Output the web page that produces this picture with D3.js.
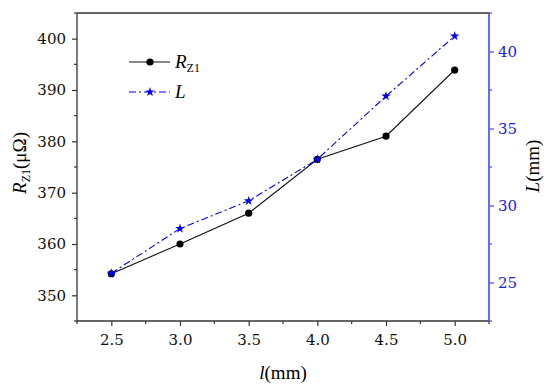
<!DOCTYPE html>
<html><head><meta charset="utf-8">
<script src="https://cdn.jsdelivr.net/npm/d3@7"></script>
<style>
html,body{margin:0;padding:0;background:#fff;}
svg{display:block;}
</style></head>
<body><svg id="c" width="550" height="388"></svg>
<script>
const lengths = [2.5, 3.0, 3.5, 4.0, 4.5, 5.0];
const rz1 = [354.2, 360.0, 366.0, 376.5, 381.0, 393.9];
const bigL = [25.6, 28.5, 30.3, 33.0, 37.1, 41.0];
const xTicks = [2.5, 3.0, 3.5, 4.0, 4.5, 5.0];
const yLeftTicks = [350, 360, 370, 380, 390, 400];
const yRightTicks = [25, 30, 35, 40];

const svg = d3.select("#c");
const L = 77, R = 489, T = 13, B = 321;
const x = d3.scaleLinear().domain([2.25, 5.25]).range([L, R]);
const yl = d3.scaleLinear().domain([345, 405]).range([B, T]);
const yr = d3.scaleLinear().domain([22.5, 42.5]).range([B, T]);
const dark = "#333";
const blueAxis = "#4646ff";
const blue = "#0000ff";
const numFont = "'DejaVu Serif', serif";
const txtFont = "'Liberation Serif', 'DejaVu Serif', serif";
const fs = 15;

// top border
svg.append("line").attr("x1", L).attr("x2", R).attr("y1", T).attr("y2", T).attr("stroke", dark).attr("stroke-width", 1.3);

// bottom axis
const gx = svg.append("g").attr("transform", `translate(0,${B})`)
  .call(d3.axisBottom(x).tickValues(xTicks).tickFormat(d3.format(".1f")).tickSize(5).tickPadding(8));
gx.append("g").selectAll("line").data(d3.range(2.25, 5.26, 0.5)).join("line")
  .attr("x1", d => x(d)).attr("x2", d => x(d)).attr("y1", 0).attr("y2", 3);
// left axis
const gl = svg.append("g").attr("transform", `translate(${L},0)`)
  .call(d3.axisLeft(yl).tickValues(yLeftTicks).tickSize(5).tickPadding(6));
gl.append("g").selectAll("line").data(d3.range(345, 406, 10)).join("line")
  .attr("y1", d => yl(d)).attr("y2", d => yl(d)).attr("x1", 0).attr("x2", -3);
[gx, gl].forEach(g => {
  g.attr("font-family", numFont);
  g.select(".domain").attr("stroke", dark).attr("stroke-width", 1.3);
  g.selectAll("line").attr("stroke", dark).attr("stroke-width", 1.2);
  g.selectAll("text").attr("font-size", fs).attr("fill", "#111");
});
gx.select(".domain").attr("d", `M${L},0H${R}`);
gl.select(".domain").attr("d", `M0,${B}V${T}`);

// right axis
const gr = svg.append("g").attr("transform", `translate(${R},0)`).attr("font-family", numFont)
  .call(d3.axisRight(yr).tickValues(yRightTicks).tickSize(5).tickPadding(4));
gr.attr("font-family", numFont);
gr.append("g").selectAll("line").data(d3.range(22.5, 42.6, 5)).join("line")
  .attr("y1", d => yr(d)).attr("y2", d => yr(d)).attr("x1", 0).attr("x2", 3);
gr.select(".domain").attr("stroke", blueAxis).attr("stroke-width", 1.6).attr("d", `M0,${B}V${T}`);
gr.selectAll("line").attr("stroke", blueAxis).attr("stroke-width", 1.2);
gr.selectAll("text").attr("font-size", fs).attr("fill", "#2020ee");

// lines
const lineR = d3.line().x((d, i) => x(lengths[i])).y(d => yl(d));
const lineL = d3.line().x((d, i) => x(lengths[i])).y(d => yr(d));
svg.append("path").attr("d", lineR(rz1)).attr("fill", "none").attr("stroke", "#111").attr("stroke-width", 1.1);
svg.append("path").attr("d", lineL(bigL)).attr("fill", "none").attr("stroke", blue).attr("stroke-width", 1.1)
  .attr("stroke-dasharray", "7,3,2,3");

const star = d3.symbol().type(d3.symbolStar).size(28);
svg.append("g").selectAll("circle").data(rz1).join("circle")
  .attr("cx", (d, i) => x(lengths[i])).attr("cy", d => yl(d)).attr("r", 3.6).attr("fill", "#000");
svg.append("g").selectAll("path").data(bigL).join("path")
  .attr("d", star).attr("transform", (d, i) => `translate(${x(lengths[i])},${yr(d)})`).attr("fill", blue);

// legend
const lg = svg.append("g").attr("font-family", txtFont);
lg.append("line").attr("x1", 129).attr("x2", 170).attr("y1", 62).attr("y2", 62).attr("stroke", "#111").attr("stroke-width", 1.1);
lg.append("circle").attr("cx", 150).attr("cy", 62).attr("r", 3.6).attr("fill", "#000");
const t1 = lg.append("text").attr("x", 175).attr("y", 68).attr("font-size", 19);
t1.append("tspan").attr("font-style", "italic").text("R");
t1.append("tspan").attr("font-size", 12).attr("dy", 4).text("Z1");
lg.append("line").attr("x1", 129).attr("x2", 170).attr("y1", 92).attr("y2", 92).attr("stroke", blue).attr("stroke-width", 1.1).attr("stroke-dasharray", "7,3,2,3");
lg.append("path").attr("d", star).attr("transform", "translate(150,92)").attr("fill", blue);
lg.append("text").attr("x", 175).attr("y", 98).attr("font-size", 19).attr("font-style", "italic").text("L");

// axis titles
const xt = svg.append("text").attr("font-family", txtFont).attr("x", 283).attr("y", 379).attr("text-anchor", "middle").attr("font-size", 19);
xt.append("tspan").attr("font-style", "italic").text("l");
xt.append("tspan").text("(mm)");

const ylt = svg.append("text").attr("font-family", txtFont).attr("transform", "translate(26,163) rotate(-90)").attr("text-anchor", "middle").attr("font-size", 19);
ylt.append("tspan").attr("font-style", "italic").text("R");
ylt.append("tspan").attr("font-size", 12).attr("dy", 4).text("Z1");
ylt.append("tspan").attr("dy", -4).text("(μΩ)");

const yrt = svg.append("text").attr("font-family", txtFont).attr("transform", "translate(539,166) rotate(-90)").attr("text-anchor", "middle").attr("font-size", 19);
yrt.append("tspan").attr("font-style", "italic").text("L");
yrt.append("tspan").text("(mm)");
</script></body></html>
